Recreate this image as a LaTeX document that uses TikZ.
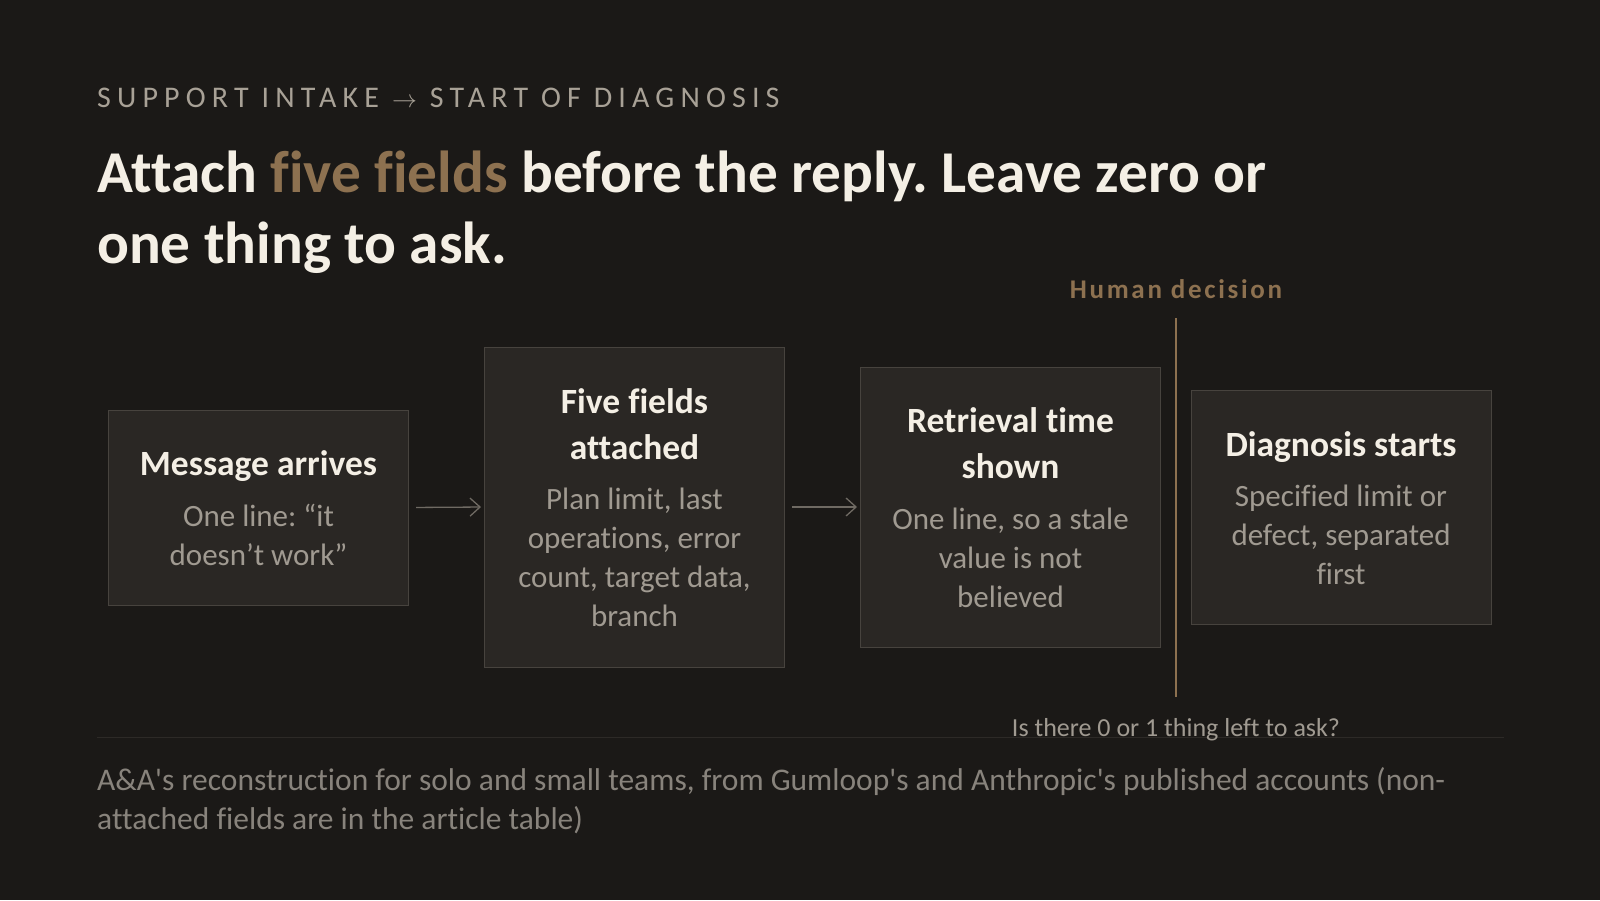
\documentclass[tikz,border=0pt]{standalone}
\usepackage{fontspec}
\setmainfont{Carlito}[Ligatures={TeXOff,NoCommon}]
\usetikzlibrary{arrows.meta,calc}
\definecolor{bgc}{HTML}{1B1917}
\definecolor{boxfill}{HTML}{2A2724}
\definecolor{boxline}{HTML}{47433E}
\definecolor{headc}{HTML}{F4EFE5}
\definecolor{bodyc}{HTML}{A09A91}
\definecolor{kickc}{HTML}{A8A196}
\definecolor{goldc}{HTML}{8D7150}
\definecolor{footc}{HTML}{88837C}
\definecolor{rulec}{HTML}{2D2A27}
\definecolor{arrc}{HTML}{6F6A63}
\tikzset{
  stepbox/.style={draw=boxline, fill=boxfill, line width=1pt, minimum width=300pt, inner sep=0pt},
  headtxt/.style={anchor=base, inner sep=0pt, text=headc, font=\fontsize{35.5}{46}\selectfont\bfseries},
  bodytxt/.style={anchor=base, inner sep=0pt, text=bodyc, font=\fontsize{31}{39}\selectfont},
  flow/.style={draw=arrc, line width=1.3pt, -{Straight Barb[length=10pt,width=18pt,line width=1.3pt]}, shorten <=7pt, shorten >=3pt},
}
\frenchspacing
\begin{document}
\begin{tikzpicture}[x=1pt,y=-1pt]
\fill[bgc] (0,0) rectangle (1600,900);
\useasboundingbox (0,0) rectangle (1600,900);

% kicker and title
\node[anchor=base west, inner sep=0pt, text=kickc, font=\fontsize{30}{34}\selectfont\addfontfeatures{LetterSpace=20.5}] (kicker) at (97,107) {SUPPORT INTAKE {\fontsize{34}{34}\selectfont$\rightarrow$} START OF DIAGNOSIS};
\node[anchor=base west, inner sep=0pt, text=headc, font=\fontsize{59.3}{71}\selectfont\bfseries] (title1) at (97,192) {Attach \textcolor{goldc}{five fields} before the reply. Leave zero or};
\node[anchor=base west, inner sep=0pt, text=headc, font=\fontsize{59.3}{71}\selectfont\bfseries] (title2) at (97,263) {one thing to ask.};

% boxes
\node[stepbox, minimum height=195pt] (m1) at (258.5,507.5) {};
\node[stepbox, minimum height=320pt] (m2) at (634.5,507) {};
\node[stepbox, minimum height=280pt] (m3) at (1010.5,507) {};
\node[stepbox, minimum height=234pt] (m4) at (1341,507) {};

\node[headtxt] (h1) at ($(m1.north)+(0,66)$) {\begin{tabular}[t]{@{}c@{}}Message arrives\end{tabular}};
\node[bodytxt] (t1) at ($(h1.base)+(0,51)$) {\begin{tabular}[t]{@{}c@{}}One line: “it\\doesn’t work”\end{tabular}};

\node[headtxt] (h2) at ($(m2.north)+(0,67)$) {\begin{tabular}[t]{@{}c@{}}Five fields\\attached\end{tabular}};
\node[bodytxt] (t2) at ($(h2.base)+(0,96)$) {\begin{tabular}[t]{@{}c@{}}Plan limit, last\\operations, error\\count, target data,\\branch\end{tabular}};

\node[headtxt] (h3) at ($(m3.north)+(0,66)$) {\begin{tabular}[t]{@{}c@{}}Retrieval time\\shown\end{tabular}};
\node[bodytxt] (t3) at ($(h3.base)+(0,97)$) {\begin{tabular}[t]{@{}c@{}}One line, so a stale\\value is not\\believed\end{tabular}};

\node[headtxt] (h4) at ($(m4.north)+(0,67)$) {\begin{tabular}[t]{@{}c@{}}Diagnosis starts\end{tabular}};
\node[bodytxt] (t4) at ($(h4.base)+(0,50)$) {\begin{tabular}[t]{@{}c@{}}Specified limit or\\defect, separated\\first\end{tabular}};

% connectors
\draw[flow] (m1.east) -- (m2.west);
\draw[flow] (m2.east) -- (m3.west);

% human decision divider
\coordinate (dtop) at (1176,318);
\coordinate (dbot) at (1176,697);
\draw[goldc, line width=2pt] (dtop) -- (dbot);
\node[anchor=base, inner sep=0pt, text=goldc, font=\fontsize{27}{30}\selectfont\bfseries\addfontfeatures{LetterSpace=10}] (human) at (1176,298) {Human decision};

% rule and question
\coordinate (rl) at (97,737);
\coordinate (rr) at (1504,737);
\draw[rulec, line width=1pt] (rl) -- (rr);
\node[anchor=base, inner sep=0pt, text=bodyc, font=\fontsize{26}{28}\selectfont] (ask) at (1176,736) {Is there 0 or 1 thing left to ask?};

% footer
\node[anchor=base west, inner sep=0pt, text=footc, font=\fontsize{31.5}{39}\selectfont] (foot1) at (97,790) {A\&A's reconstruction for solo and small teams, from Gumloop's and Anthropic's published accounts (non-};
\node[anchor=base west, inner sep=0pt, text=footc, font=\fontsize{31.5}{39}\selectfont] (foot2) at (97,829) {attached fields are in the article table)};
\end{tikzpicture}
\end{document}
